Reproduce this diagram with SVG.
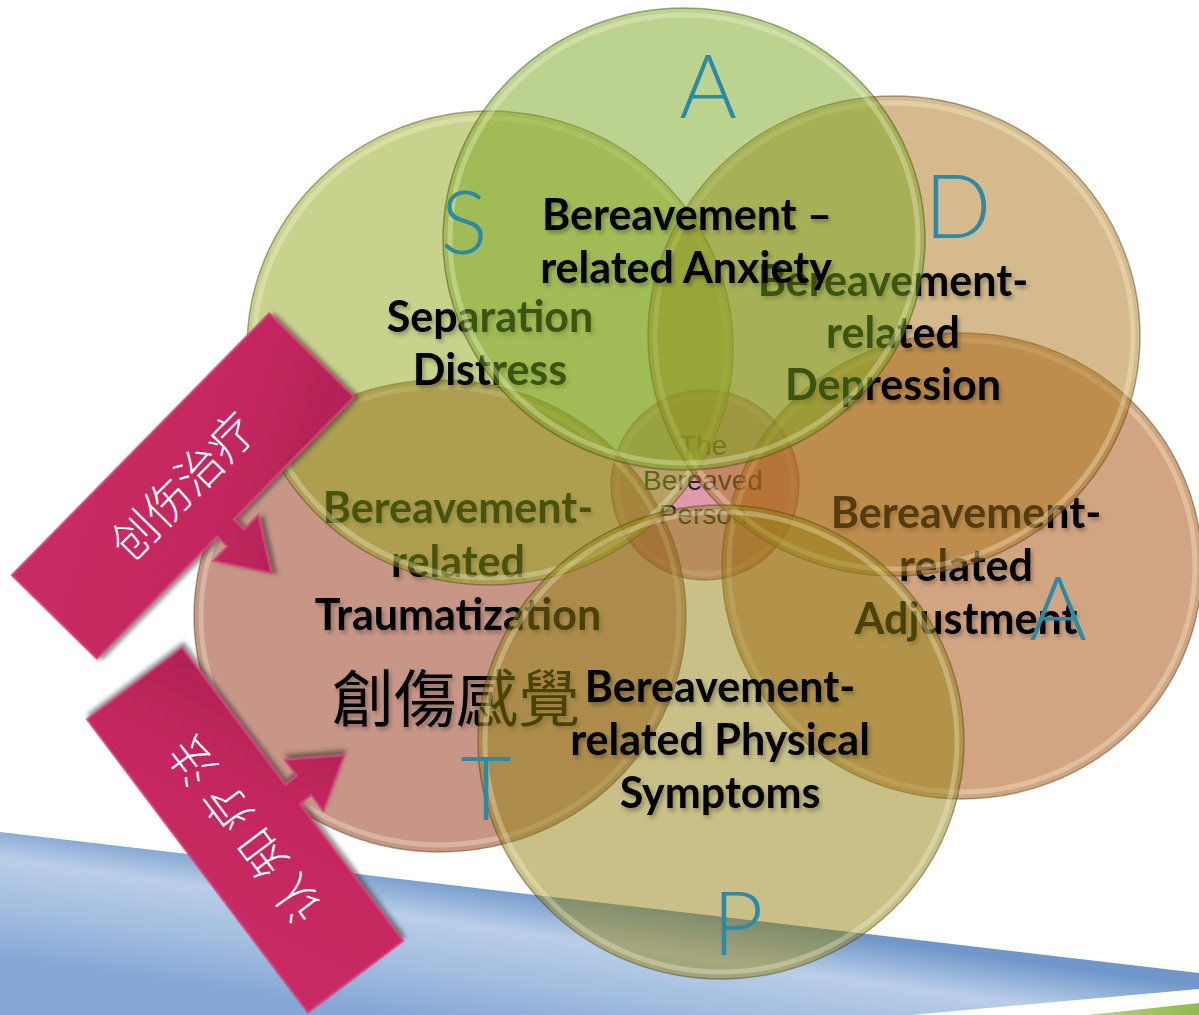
<svg xmlns="http://www.w3.org/2000/svg" width="1199" height="1015" viewBox="0 0 1199 1015">
<defs>
<style>
.lbl{font-family:Lato,"Liberation Sans",sans-serif;font-weight:700;font-size:43px;fill:#000;text-anchor:middle;filter:url(#ts)}
.ctr{font-family:"Liberation Sans",sans-serif;font-size:28px;fill:#222;text-anchor:middle}
.let{font-family:Lato,"Liberation Sans",sans-serif;font-weight:300;font-size:88px;fill:#2c8aa6;text-anchor:middle}
.ring{fill:none;stroke:#fffbe0;stroke-opacity:0.3;stroke-width:5}
.edge{stroke:#4a4020;stroke-opacity:0.45;stroke-width:1.5;fill-opacity:0.5}
.ban{font-family:"Noto Sans CJK SC","Noto Sans CJK TC",sans-serif;font-weight:300;font-size:46px;fill:#fff;text-anchor:middle}
.cjk{font-family:"Noto Sans CJK TC","Noto Sans CJK SC",sans-serif;font-size:62px;fill:#000;filter:url(#ts)}
</style>
<filter id="ts" x="-10%" y="-30%" width="120%" height="160%"><feDropShadow dx="2" dy="3" stdDeviation="2" flood-color="#000" flood-opacity="0.3"/></filter>
<filter id="bs" x="-10%" y="-10%" width="130%" height="130%"><feDropShadow dx="3" dy="4" stdDeviation="2" flood-color="#333" flood-opacity="0.55"/></filter>
<linearGradient id="blue" gradientUnits="userSpaceOnUse" x1="600" y1="900" x2="580" y2="1040">
<stop offset="0" stop-color="#6f97c9"/><stop offset="0.3" stop-color="#b9cde8"/><stop offset="0.65" stop-color="#a3bddf"/><stop offset="1" stop-color="#86a8d6"/>
</linearGradient>
<linearGradient id="grn" x1="0" y1="0" x2="1" y2="0"><stop offset="0" stop-color="#b8d47a"/><stop offset="1" stop-color="#8fb94e"/></linearGradient>
<linearGradient id="bang" x1="0" y1="0" x2="1" y2="1"><stop offset="0" stop-color="#c92a64"/><stop offset="0.5" stop-color="#c4285f"/><stop offset="1" stop-color="#a61f4f"/></linearGradient>
<path id="banner" d="M-183.5 -59.5H183.5V59.5H12V74H32L0 124L-32 74H-12V59.5H-183.5Z"/>
</defs>

<g id="background">
<polygon points="0,832 1199,973 1199,989 911,1015 0,1015" fill="url(#blue)"/>
<polygon points="1088,1015 1199,1003 1199,1015" fill="url(#grn)"/>
</g>

<g id="node-center">
<ellipse cx="705" cy="485" rx="94" ry="95" fill="#c0325a" class="edge"/>
<ellipse cx="705" cy="485" rx="88" ry="89" class="ring"/>
<text class="ctr" x="703" y="455">The</text>
<text class="ctr" x="703" y="490">Bereaved</text>
<text class="ctr" x="703" y="524">Person</text>
</g>

<g id="node-T">
<ellipse cx="440" cy="616" rx="246" ry="236" fill="#912d0f" class="edge"/>
<ellipse cx="440" cy="616" rx="239" ry="229" class="ring"/>
<text class="lbl" x="458" y="523">Bereavement-</text>
<text class="lbl" x="458" y="577">related</text>
<text class="lbl" x="458" y="630">Traumatization</text>
<text class="cjk" x="332" y="722">創傷感覺</text>
</g>

<g id="node-A2">
<ellipse cx="962" cy="566" rx="240" ry="233" fill="#a54b05" class="edge"/>
<ellipse cx="962" cy="566" rx="233" ry="226" class="ring"/>
<text class="lbl" x="966" y="528">Bereavement-</text>
<text class="lbl" x="966" y="581">related</text>
<text class="lbl" x="966" y="634">Adjustment</text>
</g>

<g id="node-S">
<ellipse cx="490" cy="348" rx="243" ry="237" fill="#91a519" class="edge"/>
<ellipse cx="490" cy="348" rx="236" ry="230" class="ring"/>
<text class="lbl" x="490" y="332">Separation</text>
<text class="lbl" x="490" y="385">Distress</text>
</g>

<g id="node-D">
<ellipse cx="894" cy="336" rx="246" ry="240" fill="#a97519" class="edge"/>
<ellipse cx="894" cy="336" rx="239" ry="233" class="ring"/>
<text class="lbl" x="893" y="296">Bereavement-</text>
<text class="lbl" x="893" y="348">related</text>
<text class="lbl" x="893" y="400">Depression</text>
</g>

<g id="node-P">
<ellipse cx="721" cy="742" rx="243" ry="237" fill="#91810f" class="edge"/>
<ellipse cx="721" cy="742" rx="236" ry="230" class="ring"/>
<text class="lbl" x="720" y="702">Bereavement-</text>
<text class="lbl" x="720" y="755">related Physical</text>
<text class="lbl" x="720" y="808">Symptoms</text>
</g>

<g id="node-A">
<ellipse cx="684" cy="239" rx="241" ry="231" fill="#79a51f" class="edge"/>
<ellipse cx="684" cy="239" rx="234" ry="224" class="ring"/>
<text class="lbl" x="687" y="230">Bereavement –</text>
<text class="lbl" x="686" y="283">related Anxiety</text>
</g>

<g id="letters">
<text class="let" x="708" y="118">A</text>
<text class="let" x="464" y="254">S</text>
<text class="let" x="958" y="238">D</text>
<text class="let" x="1058" y="640">A</text>
<text class="let" x="486" y="820">T</text>
<text class="let" x="738" y="955">P</text>
</g>

<g id="connectors">
<g id="banner-trauma" transform="translate(183,486) rotate(-45.5)">
<use href="#banner" fill="url(#bang)" stroke="#d2457a" stroke-width="2" filter="url(#bs)"/>
<text class="ban" x="0" y="17">创伤治疗</text>
</g>
<g id="banner-cognitive" transform="translate(245,830) rotate(-127)">
<use href="#banner" fill="url(#bang)" stroke="#d2457a" stroke-width="2" filter="url(#bs)"/>
<text class="ban" x="6" y="17" letter-spacing="12">认知疗法</text>
</g>
</g>
</svg>
